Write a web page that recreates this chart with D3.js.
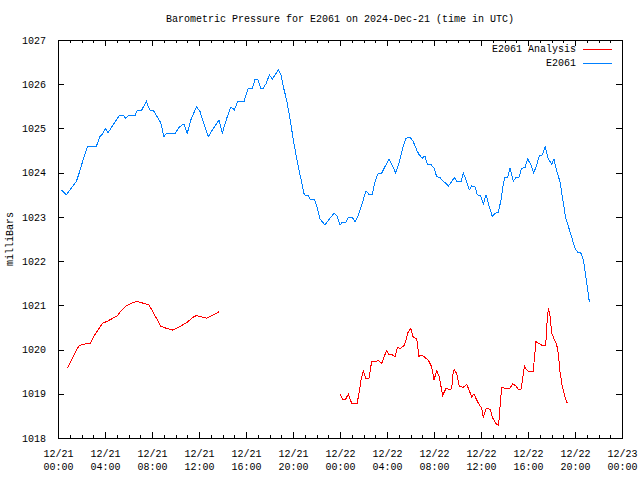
<!DOCTYPE html>
<html>
<head>
<meta charset="utf-8">
<script src="https://cdn.jsdelivr.net/npm/d3@7"></script>
<style>
  body { margin: 0; background: #fff; }
</style>
</head>
<body>
<div id="chart"></div>
<script>
// Chart size
var width = 640;
var height = 480;
var margin = { top: 40, right: 18, bottom: 42, left: 58 };
var innerWidth = width - margin.left - margin.right;
var innerHeight = height - margin.top - margin.bottom;
var fontFamily = "'Liberation Mono', 'DejaVu Sans Mono', monospace";

// Data: hours after 2024-12-21 00:00 UTC, pressure in millibars
var stationHours = [0.28, 0.7, 1.13, 1.56, 1.84, 2.21, 2.5, 3.26, 3.55, 3.83, 4.03, 4.26, 4.68, 5.25, 5.59, 5.76, 6.01, 6.58, 6.72, 7.09,
  7.52, 7.8, 8.14, 8.43, 8.74, 9.02, 9.22, 9.98, 10.35, 10.72, 11.0, 11.35, 11.8, 12.09, 12.45, 12.79, 13.22, 13.7, 13.99, 14.36,
  14.72, 15.01, 15.29, 15.83, 16.2, 16.54, 16.77, 17.0, 17.25, 17.47, 17.7, 17.99, 18.24, 18.75, 18.98, 19.18, 19.46, 19.74, 20.03, 20.26,
  20.6, 20.96, 21.3, 21.45, 21.79, 22.01, 22.3, 22.72, 23.15, 23.49, 23.72, 24.0, 24.2, 24.51, 24.71, 25.05, 25.28, 25.56, 25.85, 26.21,
  26.5, 26.75, 26.98, 27.26, 27.55, 27.83, 28.17, 28.45, 28.74, 29.05, 29.33, 29.62, 29.96, 30.24, 30.53, 30.75, 31.0, 31.23, 31.43, 31.72,
  32.0, 32.23, 32.51, 32.79, 33.0, 33.22, 33.51, 33.73, 33.98, 34.3, 34.5, 34.78, 35.0, 35.21, 35.49, 35.69, 35.97, 36.2, 36.43, 36.62,
  36.96, 37.19, 37.47, 37.7, 37.9, 38.04, 38.27, 38.47, 38.75, 38.98, 39.23, 39.46, 39.74, 39.97, 40.26, 40.48, 40.74, 40.96, 41.22, 41.45,
  41.73, 42.02, 42.21, 42.44, 42.72, 42.92, 43.21, 43.57, 44.0, 44.23, 44.51, 44.71, 44.94, 45.22];
var stationPressure = [1023.61, 1023.5, 1023.65, 1023.8, 1024.02, 1024.36, 1024.59, 1024.59, 1024.81, 1024.89, 1025.0, 1024.9, 1025.08, 1025.3, 1025.3, 1025.22, 1025.3, 1025.3, 1025.4, 1025.4,
  1025.61, 1025.42, 1025.4, 1025.27, 1025.13, 1024.81, 1024.89, 1024.89, 1025.04, 1025.1, 1024.89, 1025.23, 1025.49, 1025.38, 1025.08, 1024.81, 1025.0, 1025.19, 1024.9, 1025.23,
  1025.49, 1025.42, 1025.61, 1025.61, 1025.91, 1025.91, 1026.11, 1026.11, 1025.91, 1025.91, 1026.01, 1026.21, 1026.12, 1026.32, 1026.21, 1025.94, 1025.64, 1025.23, 1024.74, 1024.4,
  1023.95, 1023.5, 1023.48, 1023.4, 1023.4, 1023.27, 1022.95, 1022.82, 1022.97, 1023.08, 1023.03, 1022.82, 1022.88, 1022.88, 1022.99, 1022.99, 1022.88, 1023.03, 1023.27, 1023.59,
  1023.5, 1023.5, 1023.8, 1023.99, 1023.99, 1024.14, 1024.3, 1024.17, 1023.99, 1024.25, 1024.55, 1024.78, 1024.8, 1024.7, 1024.51, 1024.4, 1024.33, 1024.38, 1024.19, 1024.19,
  1024.1, 1023.91, 1023.89, 1023.8, 1023.76, 1023.7, 1023.8, 1023.89, 1023.79, 1023.8, 1023.99, 1023.8, 1023.61, 1023.7, 1023.68, 1023.5, 1023.48, 1023.29, 1023.5, 1023.31,
  1023.01, 1023.08, 1023.1, 1023.38, 1023.76, 1023.89, 1023.9, 1024.1, 1023.8, 1023.9, 1023.9, 1024.1, 1024.11, 1024.31, 1024.17, 1023.99, 1024.17, 1024.38, 1024.4, 1024.59,
  1024.31, 1024.19, 1024.31, 1024.04, 1023.8, 1023.46, 1022.97, 1022.67, 1022.29, 1022.2, 1022.18, 1022.03, 1021.61, 1021.08];

// Analysis series (null = gap in the record)
var analysisHours = [0.8, 1.28, 1.79, 2.13, 2.75, 3.12, 3.55, 3.77, 4.26, 4.68, 5.02, 5.39, 5.82, 6.3, 6.75, 7.23, 7.74, 8.23, 8.74, 9.22,
  9.73, 10.21, 10.64, 11.06, 11.43, 11.77, 12.2, 12.68, 13.19, 13.73, 18.0,
  24.0, 24.2, 24.48, 24.71, 25.0, 25.45, 25.62, 25.79, 25.98, 26.21, 26.47, 26.7, 26.98, 27.26, 27.55, 27.77, 27.97, 28.2, 28.45, 28.68,
  28.88, 29.17, 29.45, 29.59, 29.76, 30.02, 30.24, 30.53, 30.72, 30.89, 31.09, 31.52, 31.8, 32.0, 32.23, 32.45, 32.6, 32.74, 33.02, 33.36,
  33.51, 33.64, 33.73, 33.93, 34.15, 34.5, 34.78, 34.98, 35.21, 35.4, 35.63, 35.86, 36.06, 36.2, 36.4, 36.57, 36.77, 37.0, 37.26, 37.47,
  37.56, 37.62, 37.76, 38.04, 38.41, 38.7, 38.98, 39.18, 39.4, 39.55, 39.69, 39.89, 40.11, 40.45, 40.54, 40.68, 40.96, 41.25, 41.51, 41.59,
  41.73, 41.85, 42.02, 42.25, 42.45, 42.59, 42.72, 42.92, 43.15, 43.29, 43.43];
var analysisPressure = [1019.58, 1019.84, 1020.09, 1020.12, 1020.14, 1020.33, 1020.5, 1020.59, 1020.65, 1020.71, 1020.76, 1020.88, 1020.99, 1021.05, 1021.09, 1021.05, 1021.01, 1020.78, 1020.53, 1020.48,
  1020.44, 1020.5, 1020.56, 1020.63, 1020.72, 1020.77, 1020.74, 1020.71, 1020.78, 1020.86, null,
  1019.0, 1018.88, 1018.88, 1018.99, 1018.78, 1018.78, 1019.01, 1019.31, 1019.52, 1019.35, 1019.35, 1019.74, 1019.73, 1019.75, 1019.69, 1019.85, 1019.97, 1019.88, 1019.88, 1019.84,
  1020.04, 1020.03, 1020.09, 1020.19, 1020.37, 1020.48, 1020.27, 1020.25, 1019.84, 1019.88, 1019.85, 1019.76, 1019.61, 1019.31, 1019.52, 1019.39, 1019.16, 1018.97, 1019.12, 1019.1,
  1019.12, 1019.52, 1019.54, 1019.46, 1019.16, 1019.15, 1019.21, 1019.09, 1018.92, 1019.0, 1018.86, 1018.75, 1018.67, 1018.46, 1018.65, 1018.67, 1018.65, 1018.45, 1018.33, 1018.29,
  1018.45, 1018.72, 1019.15, 1019.12, 1019.11, 1019.22, 1019.18, 1019.09, 1019.09, 1019.35, 1019.63, 1019.54, 1019.5, 1019.5, 1019.8, 1020.18, 1020.13, 1020.09, 1020.1, 1020.52,
  1020.93, 1020.82, 1020.37, 1020.22, 1020.1, 1019.88, 1019.5, 1019.16, 1018.93, 1018.81, 1018.81];

var yTicks = [1018, 1019, 1020, 1021, 1022, 1023, 1024, 1025, 1026, 1027];
var seriesNames = ["E2061 Analysis", "E2061"];
var seriesColors = ["#ff0000", "#0080ff"];

var start = Date.UTC(2024, 11, 21);
function toDate(h) { return new Date(start + h * 3600 * 1000); }

// Create SVG
var svg = d3.select("#chart")
  .append("svg")
  .attr("width", width)
  .attr("height", height)
  .attr("font-family", fontFamily)
  .attr("font-size", 10)
  .style("display", "block")
  .style("background", "#fff");

var chartGroup = svg.append("g")
  .attr("transform", "translate(" + margin.left + "," + margin.top + ")");

// Scales
var xScale = d3.scaleUtc()
  .domain([new Date(start), toDate(48)])
  .range([0, innerWidth]);

var yScale = d3.scaleLinear()
  .domain([1018, 1027])
  .range([innerHeight, 0]);

var majorX = d3.utcHour.every(4).range(new Date(start), toDate(48.01));
var minorX = d3.utcHour.every(1).range(new Date(start), toDate(48.01));

// Tick-only axis helper: no domain line, no labels
function ticksOnly(g) {
  g.select(".domain").remove();
  g.selectAll(".tick text").remove();
}

// Minor ticks (bottom and top)
chartGroup.append("g")
  .attr("transform", "translate(0," + innerHeight + ")")
  .call(d3.axisBottom(xScale).tickValues(minorX).tickSize(-3))
  .call(ticksOnly);
chartGroup.append("g")
  .call(d3.axisTop(xScale).tickValues(minorX).tickSize(-3))
  .call(ticksOnly);

// Major x axis with two-line labels
var xAxis = chartGroup.append("g")
  .attr("transform", "translate(0," + innerHeight + ")")
  .call(d3.axisBottom(xScale).tickValues(majorX).tickSize(-6))
  .call(ticksOnly);

xAxis.selectAll(".tick").append("text")
  .attr("fill", "#000")
  .attr("font-family", fontFamily)
  .attr("text-anchor", "middle")
  .attr("x", 0)
  .attr("y", 12)
  .attr("dy", "0.71em")
  .text(d3.utcFormat("%m/%d"));
xAxis.selectAll(".tick").append("text")
  .attr("fill", "#000")
  .attr("font-family", fontFamily)
  .attr("text-anchor", "middle")
  .attr("x", 0)
  .attr("y", 25)
  .attr("dy", "0.71em")
  .text(d3.utcFormat("%H:%M"));

chartGroup.append("g")
  .call(d3.axisTop(xScale).tickValues(majorX).tickSize(-6))
  .call(ticksOnly);

// Y axes
chartGroup.append("g")
  .call(d3.axisLeft(yScale).tickValues(yTicks).tickSize(-6).tickPadding(12).tickFormat(d3.format("d")))
  .call(function (g) {
    g.select(".domain").remove();
    g.attr("font-family", fontFamily).selectAll("text").attr("fill", "#000");
  });

chartGroup.append("g")
  .attr("transform", "translate(" + innerWidth + ",0)")
  .call(d3.axisRight(yScale).tickValues(yTicks).tickSize(-6))
  .call(ticksOnly);

chartGroup.selectAll(".tick line").attr("stroke", "#000").attr("shape-rendering", "crispEdges");

// Border
chartGroup.append("rect")
  .attr("x", 0.5).attr("y", 0.5)
  .attr("width", innerWidth).attr("height", innerHeight)
  .attr("fill", "none").attr("stroke", "#000")
  .attr("shape-rendering", "crispEdges");

// Lines
var line = d3.line()
  .defined(function (d) { return d.v !== null; })
  .x(function (d) { return xScale(toDate(d.h)); })
  .y(function (d) { return yScale(d.v); });

var analysisData = analysisHours.map(function (h, i) { return { h: h, v: analysisPressure[i] }; });
var stationData = stationHours.map(function (h, i) { return { h: h, v: stationPressure[i] }; });

chartGroup.append("path")
  .datum(analysisData)
  .attr("fill", "none")
  .attr("stroke", seriesColors[0])
  .attr("stroke-width", 1)
  .attr("shape-rendering", "crispEdges")
  .attr("d", line);

chartGroup.append("path")
  .datum(stationData)
  .attr("fill", "none")
  .attr("stroke", seriesColors[1])
  .attr("stroke-width", 1)
  .attr("shape-rendering", "crispEdges")
  .attr("d", line);

// Legend
var legend = chartGroup.append("g")
  .attr("text-anchor", "end");

seriesNames.forEach(function (name, i) {
  var ly = 9 + i * 14;
  legend.append("text")
    .attr("fill", "#000")
    .attr("x", innerWidth - 46)
    .attr("y", ly)
    .attr("dy", "0.32em")
    .text(name);
  legend.append("line")
    .attr("x1", innerWidth - 39).attr("x2", innerWidth - 10)
    .attr("y1", ly + 0.5).attr("y2", ly + 0.5)
    .attr("stroke", seriesColors[i])
    .attr("shape-rendering", "crispEdges");
});

// Title
svg.append("text")
  .attr("fill", "#000")
  .attr("x", margin.left + innerWidth / 2)
  .attr("y", 19)
  .attr("dy", "0.32em")
  .attr("text-anchor", "middle")
  .text("Barometric Pressure for E2061 on 2024-Dec-21 (time in UTC)");

// Y label
svg.append("text")
  .attr("fill", "#000")
  .attr("transform", "translate(10," + (margin.top + innerHeight / 2) + ") rotate(-90)")
  .attr("dy", "0.32em")
  .attr("text-anchor", "middle")
  .text("milliBars");
</script>
</body>
</html>
